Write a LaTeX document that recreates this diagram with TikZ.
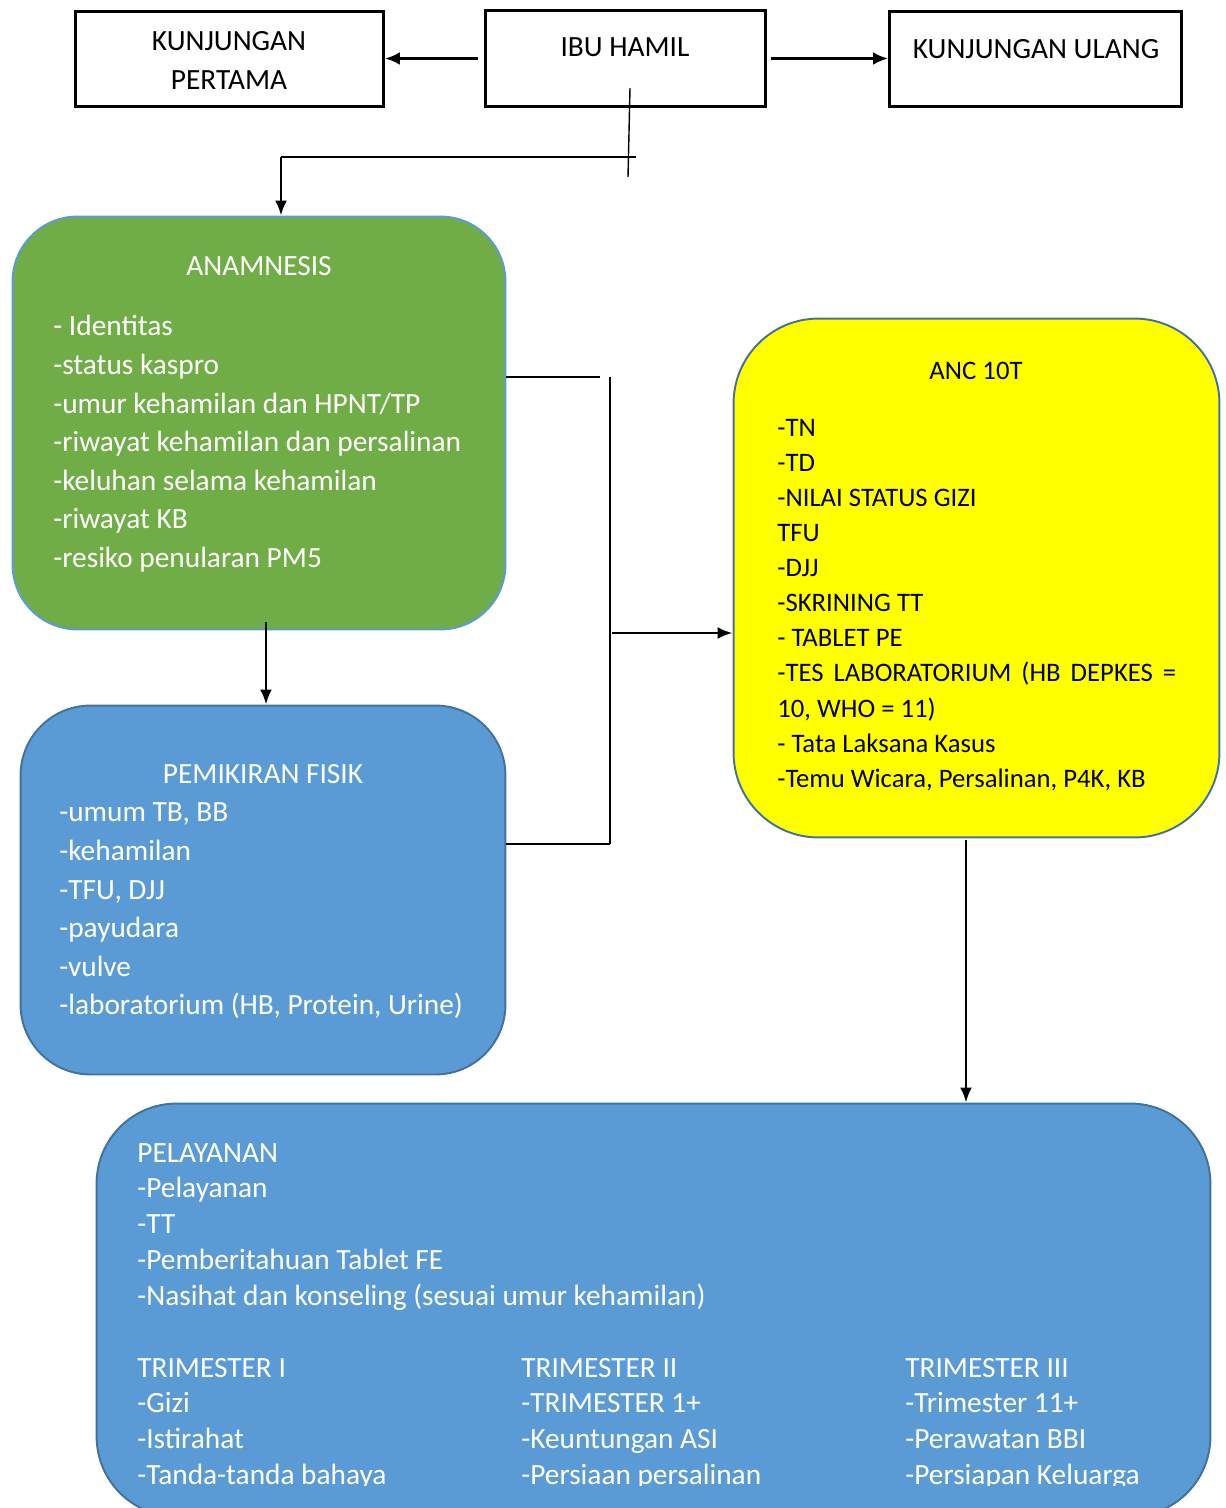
\documentclass[tikz,border=0pt]{standalone}
\usepackage{fontspec}
\setmainfont{Carlito}
\usetikzlibrary{arrows.meta}

\definecolor{anagreen}{HTML}{70AD47}
\definecolor{fisikblue}{HTML}{5B9BD5}
\definecolor{edgeblue}{HTML}{41719C}
\definecolor{ancyellow}{HTML}{FFFF00}

\newcommand{\boxfont}{\fontsize{16.7}{22}\selectfont}
\newcommand{\ancfont}{\fontsize{15.2}{20}\selectfont}

\tikzset{
  roundbox/.style={draw=edgeblue, line width=1.1pt},
  arr/.style={-{Latex[length=0.3cm,width=0.24cm]}, line width=1.5pt},
  toparr/.style={-{Latex[length=0.3cm,width=0.26cm]}, line width=2pt},
  thinline/.style={line width=0.8pt},
  linetxt/.style={anchor=base west, inner sep=0pt, font=\boxfont}
}

\begin{document}
\begin{tikzpicture}[x=0.02cm, y=-0.02cm]

      \useasboundingbox (0,0) rectangle (1226,1508);

      \begin{scope}[every node/.style={draw, line width=1.7pt, minimum height=1.92cm}]
        \node[minimum width=6.16cm] (pertama) at (229.5,59) {};
        \node[minimum width=5.6cm]  (ibu)     at (625.5,58.5) {};
        \node[minimum width=5.84cm] (ulang)   at (1035.5,59) {};
      \end{scope}

      \begin{scope}[every node/.style={anchor=base, inner sep=0pt, font=\boxfont}]
        \node (pertama1) at (229,50)  {KUNJUNGAN};
        \node (pertama2) at (229,89)  {PERTAMA};
        \node (ibu1)     at (625,56)  {IBU HAMIL};
        \node (ulang1)   at (1036,58) {KUNJUNGAN ULANG};
      \end{scope}

      \node[roundbox, draw=fisikblue, fill=anagreen, rounded corners=1.3cm,
            minimum width=9.86cm, minimum height=8.26cm] (anamnesis) at (259,423) {};
      \node[roundbox, fill=fisikblue, rounded corners=1.4cm,
            minimum width=9.7cm, minimum height=7.38cm] (fisik) at (263,890) {};
      \node[roundbox, fill=ancyellow, rounded corners=1.7cm,
            minimum width=9.72cm, minimum height=10.38cm] (anc) at (976.5,578) {};
      \node[roundbox, fill=fisikblue, rounded corners=1.6cm,
            minimum width=22.28cm, minimum height=8.26cm] (pelayanan) at (653.5,1310) {};

      \coordinate (c1)  at (630,88);
      \coordinate (c2)  at (628,177);
      \coordinate (c3)  at (281,157);
      \coordinate (c4)  at (636,157);
      \coordinate (c5)  at (266,622);
      \coordinate (c6)  at (600,377);
      \coordinate (c7)  at (610,377);
      \coordinate (c8)  at (610,844);
      \coordinate (c9)  at (612,633);
      \coordinate (c10) at (966,840);

      \draw[toparr] ([xshift=-0.12cm]ibu.west) -- (ibu.west -| pertama.east);
      \draw[toparr] ([xshift=0.08cm]ibu.east) -- (ibu.east -| ulang.west);
      \draw[thinline] (c1) -- (c2);
      \draw[thinline] (c3) -- (c4);
      \draw[arr] (c3) -- (c3 |- anamnesis.north);
      \draw[arr] (c5) -- (c5 |- fisik.north);
      \draw[thinline] (anamnesis.east |- c6) -- (c6);
      \draw[thinline] (c7) -- (c8);
      \draw[thinline] (fisik.east |- c8) -- (c8);
      \draw[arr] (c9) -- (c9 -| anc.west);
      \draw[arr] (c10) -- (c10 |- pelayanan.north);

      \begin{scope}[every node/.style={linetxt, text=white}]
        \node[anchor=base] (anamnesis0) at (259,275) {ANAMNESIS};
        \foreach \y/\t [count=\i] in {335/{- Identitas}, 374/{-status kaspro},
            413/{-umur kehamilan dan HPNT/TP}, 451/{-riwayat kehamilan dan persalinan},
            490/{-keluhan selama kehamilan}, 528/{-riwayat KB}, 567/{-resiko penularan PM5}}
          \node (anamnesis\i) at (53,\y) {\t};

        \node[anchor=base] (fisik0) at (263,783) {PEMIKIRAN FISIK};
        \foreach \y/\t [count=\i] in {821/{-umum TB, BB}, 860/{-kehamilan}, 899/{-TFU, DJJ},
            937/{-payudara}, 976/{-vulve}, 1014/{-laboratorium (HB, Protein, Urine)}}
          \node (fisik\i) at (59,\y) {\t};

        \foreach \y/\t [count=\i] in {1162/{PELAYANAN}, 1197/{-Pelayanan}, 1233/{-TT},
            1269/{-Pemberitahuan Tablet FE}, 1305/{-Nasihat dan konseling (sesuai umur kehamilan)}}
          \node (pelayanan\i) at (137,\y) {\t};
      \end{scope}

      \begin{scope}[every node/.style={linetxt, text=white}]
        \clip (0,0) rectangle (1226,1485);
        \foreach \x/\a/\b/\c/\d [count=\i] in {
            137/{TRIMESTER I}/{-Gizi}/{-Istirahat}/{-Tanda-tanda bahaya},
            521/{TRIMESTER II}/{-TRIMESTER 1+}/{-Keuntungan ASI}/{-Persiaan persalinan},
            905/{TRIMESTER III}/{-Trimester 11+}/{-Perawatan BBI}/{-Persiapan Keluarga}}
        {
          \node (tri\i-1) at (\x,1377) {\a};
          \node (tri\i-2) at (\x,1412) {\b};
          \node (tri\i-3) at (\x,1448) {\c};
          \node (tri\i-4) at (\x,1484) {\d};
        }
      \end{scope}

      \begin{scope}[every node/.style={linetxt, font=\ancfont}]
        \node[anchor=base] (anc0) at (976,379) {ANC 10T};
        \foreach \y/\t [count=\i] in {436/{-TN}, 471/{-TD}, 506/{-NILAI STATUS GIZI},
            541/{TFU}, 576/{-DJJ}, 611/{-SKRINING TT}, 646/{- TABLET PE},
            681/{\makebox[7.98cm][s]{-TES LABORATORIUM (HB DEPKES =}},
            717/{10, WHO = 11)}, 752/{- Tata Laksana Kasus},
            787/{-Temu Wicara, Persalinan, P4K, KB}}
          \node (anc\i) at (777,\y) {\t};
      \end{scope}

    \end{tikzpicture}
\end{document}
